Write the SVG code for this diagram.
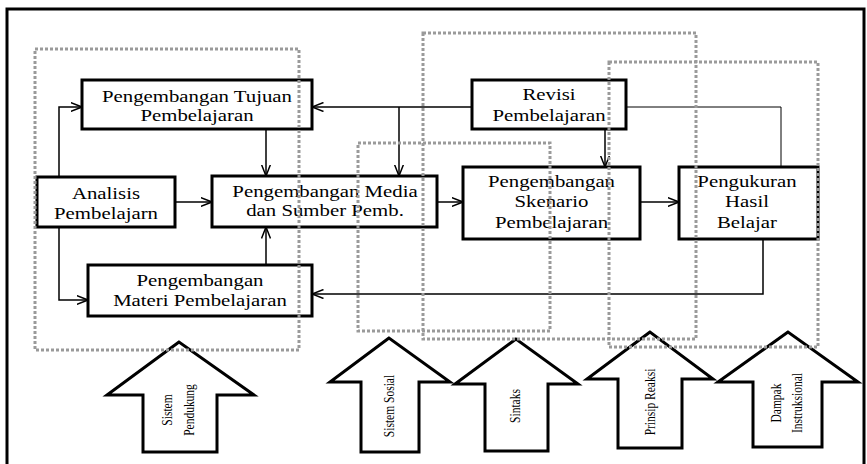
<svg xmlns="http://www.w3.org/2000/svg" width="867" height="464" viewBox="0 0 867 464">
  <style>
    .box { fill: #fff; stroke: #000; stroke-width: 3; }
    .lbl { font-size: 16px; fill: #000; text-anchor: middle; }
    .vlbl { font-size: 11.5px; fill: #000; text-anchor: middle; }
    .link { fill: none; stroke: #000; stroke-width: 1.5; }
    .thin { fill: none; stroke: #000; stroke-width: 1; }
    .zone { fill: none; stroke: #9a9a9a; stroke-width: 3; stroke-dasharray: 3 2; }
    .big { fill: #fff; stroke: #000; stroke-width: 3; stroke-linejoin: miter; }
  </style>
  <defs>
    <marker id="open" viewBox="0 0 12 10" refX="11.5" refY="5" markerWidth="12" markerHeight="10" markerUnits="userSpaceOnUse" orient="auto">
      <path d="M0,0.5 L11.5,5 L0,9.5" fill="none" stroke="#000" stroke-width="1.5"/>
    </marker>
  </defs>

  <rect width="867" height="464" fill="#fff"/>
  <!-- outer frame -->
  <rect x="7" y="9" width="857" height="470" fill="none" stroke="#000" stroke-width="3"/>

  <g font-family="Liberation Serif, Times New Roman, DejaVu Serif, serif">
  <!-- component arrows -->
  <g id="arrow-pendukung">
    <path class="big" d="M179,342 L107,395 L143,395 L143,452 L217,452 L217,395 L254,395 Z"/>
    <g transform="translate(178,410) scale(1.3,1) rotate(-90)">
      <text class="vlbl" x="0" y="-4.5">Sistem</text>
      <text class="vlbl" x="0" y="12.5">Pendukung</text>
    </g>
  </g>
  <g id="arrow-sosial">
    <path class="big" d="M389,338 L330,382 L361,382 L361,452 L419,452 L419,382 L450,382 Z"/>
    <text class="vlbl" transform="translate(389,406) scale(1.3,1) rotate(-90)" y="4">Sistem Sosial</text>
  </g>
  <g id="arrow-sintaks">
    <path class="big" d="M516,339 L455,384 L485,384 L485,451 L548,451 L548,384 L578,384 Z"/>
    <text class="vlbl" transform="translate(515,406) scale(1.3,1) rotate(-90)" y="4">Sintaks</text>
  </g>
  <g id="arrow-reaksi">
    <path class="big" d="M650,332 L587,379 L618,379 L618,448 L682,448 L682,379 L713,379 Z"/>
    <text class="vlbl" transform="translate(650,402) scale(1.3,1) rotate(-90)" y="4">Prinsip Reaksi</text>
  </g>
  <g id="arrow-dampak">
    <path class="big" d="M788,332 L718,382 L753,382 L753,447 L822,447 L822,382 L858,382 Z"/>
    <g transform="translate(786.5,403) scale(1.3,1) rotate(-90)">
      <text class="vlbl" x="0" y="-4">Dampak</text>
      <text class="vlbl" x="0" y="12">Instruksional</text>
    </g>
  </g>

  <!-- connectors -->
  <g id="connectors">
    <path class="link" d="M59,177 V107 H82" marker-end="url(#open)"/>
    <path class="link" d="M59,227 V300 H88" marker-end="url(#open)"/>
    <path class="link" d="M175,202 H212" marker-end="url(#open)"/>
    <path class="link" d="M266,129 V176" marker-end="url(#open)"/>
    <path class="link" d="M266,265 V227" marker-end="url(#open)"/>
    <path class="link" d="M472,107 H312" marker-end="url(#open)"/>
    <path class="link" d="M399,107 V176" marker-end="url(#open)"/>
    <path class="link" d="M605,129 V167" marker-end="url(#open)"/>
    <path class="thin" d="M626,107 H781 V167"/>
    <path class="link" d="M437,202 H463" marker-end="url(#open)"/>
    <path class="link" d="M640,202 H679" marker-end="url(#open)"/>
    <path class="link" d="M763,239 V294 H312" marker-end="url(#open)"/>
  </g>

  <!-- process boxes -->
  <g id="tujuan">
    <rect class="box" x="82" y="80" width="230" height="49"/>
    <text class="lbl" transform="translate(197,102) scale(1.3,1)">Pengembangan Tujuan</text>
    <text class="lbl" transform="translate(197,121) scale(1.3,1)">Pembelajaran</text>
  </g>
  <g id="analisis">
    <rect class="box" x="37" y="177" width="138" height="50"/>
    <text class="lbl" transform="translate(106,199) scale(1.3,1)">Analisis</text>
    <text class="lbl" transform="translate(106,219) scale(1.3,1)">Pembelajarn</text>
  </g>
  <g id="media">
    <rect class="box" x="212" y="176" width="225" height="51"/>
    <text class="lbl" transform="translate(325,197) scale(1.3,1)">Pengembangan Media</text>
    <text class="lbl" transform="translate(325,216) scale(1.3,1)">dan Sumber Pemb.</text>
  </g>
  <g id="materi">
    <rect class="box" x="88" y="265" width="224" height="51"/>
    <text class="lbl" transform="translate(200,286) scale(1.3,1)">Pengembangan</text>
    <text class="lbl" transform="translate(200,306) scale(1.3,1)">Materi Pembelajaran</text>
  </g>
  <g id="revisi">
    <rect class="box" x="472" y="80" width="154" height="49"/>
    <text class="lbl" transform="translate(549,100) scale(1.3,1)">Revisi</text>
    <text class="lbl" transform="translate(549,121) scale(1.3,1)">Pembelajaran</text>
  </g>
  <g id="skenario">
    <rect class="box" x="463" y="167" width="177" height="72"/>
    <text class="lbl" transform="translate(551.5,187) scale(1.3,1)">Pengembangan</text>
    <text class="lbl" transform="translate(551.5,207) scale(1.3,1)">Skenario</text>
    <text class="lbl" transform="translate(551.5,228) scale(1.3,1)">Pembelajaran</text>
  </g>
  <g id="pengukuran">
    <rect class="box" x="679" y="167" width="139" height="72"/>
    <text class="lbl" transform="translate(747,187) scale(1.3,1)">Pengukuran</text>
    <text class="lbl" transform="translate(747,207) scale(1.3,1)">Hasil</text>
    <text class="lbl" transform="translate(747,228) scale(1.3,1)">Belajar</text>
  </g>
  </g>

  <!-- dotted model-component zones -->
  <g id="zones">
    <rect class="zone" x="35" y="49" width="264" height="301"/>
    <rect class="zone" x="423" y="33" width="273" height="306"/>
    <rect class="zone" x="358" y="143" width="192" height="188"/>
    <rect class="zone" x="609" y="62" width="209" height="285"/>
  </g>
</svg>
